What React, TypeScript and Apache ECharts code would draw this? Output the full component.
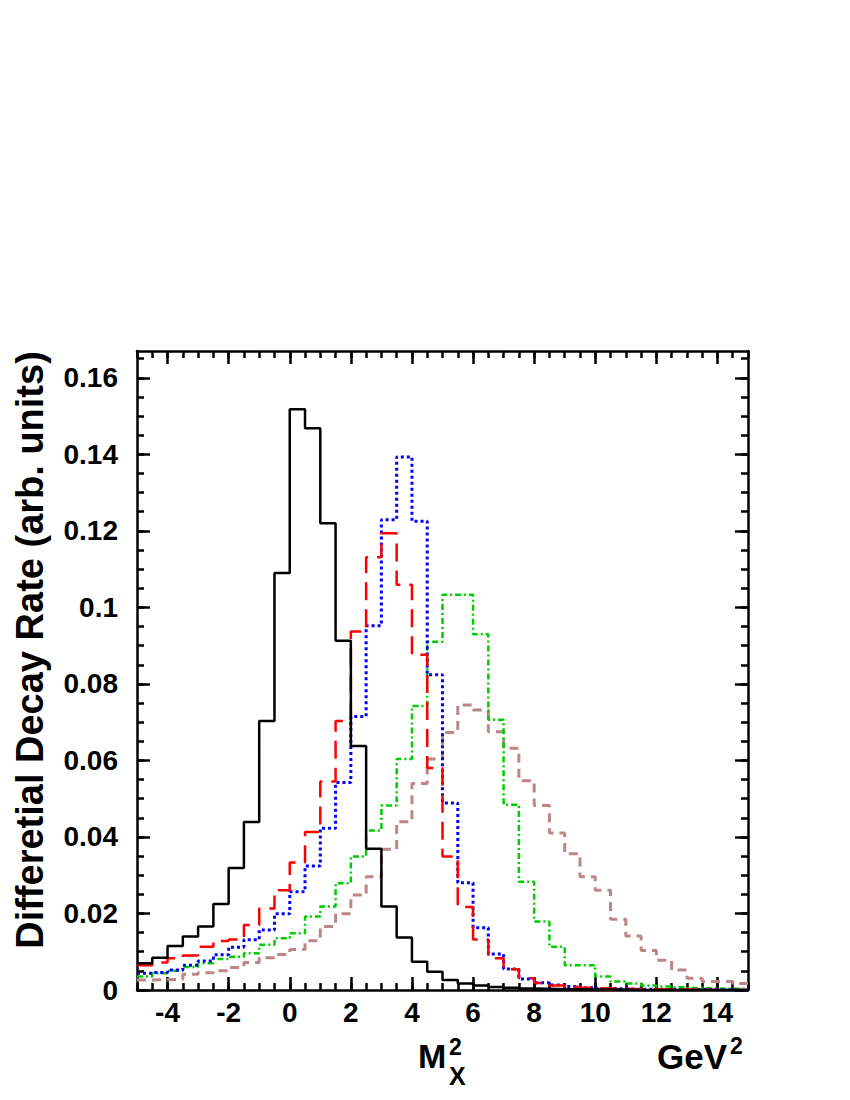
import React, { useEffect, useRef } from "react";
import * as echarts from "echarts";

// Bin left edges (GeV^2), bin width 0.5, range -5 .. 15
const binEdges: number[] = Array.from({ length: 41 }, (_, i) => -5 + i * 0.5);

const blackSeries = [
  0.0070, 0.0084, 0.0115, 0.0140, 0.0166, 0.0225, 0.0319, 0.0439, 0.0703, 0.1090,
  0.1518, 0.1468, 0.1220, 0.0913, 0.0638, 0.0369, 0.0218, 0.0137, 0.0074, 0.0048,
  0.0026, 0.0017, 0.0012, 0.0008, 0.0006, 0.0004, 0.0003, 0.0002, 0.0002, 0.0001,
  0.0001, 0.0001, 0.0000, 0.0000, 0.0000, 0.0000, 0.0000, 0.0000, 0.0000, 0.0000,
];
const redSeries = [
  0.0065, 0.0072, 0.0083, 0.0090, 0.0113, 0.0128, 0.0132, 0.0170, 0.0213, 0.0261,
  0.0333, 0.0413, 0.0545, 0.0703, 0.0937, 0.1131, 0.1194, 0.1059, 0.0876, 0.0580,
  0.0349, 0.0217, 0.0132, 0.0083, 0.0054, 0.0031, 0.0018, 0.0012, 0.0008, 0.0006,
  0.0004, 0.0003, 0.0002, 0.0002, 0.0001, 0.0001, 0.0001, 0.0000, 0.0000, 0.0000,
];
const blueSeries = [
  0.0044, 0.0046, 0.0052, 0.0065, 0.0076, 0.0092, 0.0112, 0.0131, 0.0157, 0.0199,
  0.0257, 0.0324, 0.0423, 0.0542, 0.0715, 0.0952, 0.1229, 0.1393, 0.1225, 0.0824,
  0.0489, 0.0280, 0.0163, 0.0094, 0.0055, 0.0029, 0.0019, 0.0013, 0.0009, 0.0006,
  0.0004, 0.0003, 0.0002, 0.0002, 0.0001, 0.0001, 0.0001, 0.0001, 0.0000, 0.0000,
];
const greenSeries = [
  0.0035, 0.0044, 0.0050, 0.0060, 0.0070, 0.0081, 0.0087, 0.0096, 0.0118, 0.0135,
  0.0148, 0.0192, 0.0218, 0.0279, 0.0349, 0.0417, 0.0482, 0.0604, 0.0742, 0.0910,
  0.1033, 0.1033, 0.0930, 0.0706, 0.0484, 0.0283, 0.0179, 0.0113, 0.0065, 0.0065,
  0.0035, 0.0022, 0.0017, 0.0012, 0.0009, 0.0007, 0.0005, 0.0004, 0.0003, 0.0003,
];
const brownSeries = [
  0.0026, 0.0027, 0.0028, 0.0041, 0.0045, 0.0050, 0.0059, 0.0072, 0.0084, 0.0093,
  0.0106, 0.0129, 0.0166, 0.0199, 0.0248, 0.0296, 0.0368, 0.0440, 0.0540, 0.0604,
  0.0673, 0.0745, 0.0732, 0.0675, 0.0632, 0.0547, 0.0482, 0.0410, 0.0356, 0.0296,
  0.0261, 0.0185, 0.0141, 0.0103, 0.0078, 0.0052, 0.0031, 0.0022, 0.0022, 0.0017,
];

const xMajorTicks = [-4, -2, 0, 2, 4, 6, 8, 10, 12, 14];
const xMinorTicks: number[] = Array.from({ length: 41 }, (_, i) => -5 + i * 0.5);
const yMajorTicks = [0, 0.02, 0.04, 0.06, 0.08, 0.1, 0.12, 0.14, 0.16];
const yMinorTicks: number[] = Array.from({ length: 34 }, (_, i) => +(i * 0.005).toFixed(3));

const X_MIN = -5;
const X_MAX = 15;
const Y_MIN = 0;
const Y_MAX = 0.167;

const FONT = "Liberation Sans";

function histData(vals: number[]): [number, number][] {
  const out: [number, number][] = vals.map((v, i) => [binEdges[i], v]);
  out.push([binEdges[vals.length], vals[vals.length - 1]]);
  return out;
}

export default function App() {
  const ref = useRef<HTMLDivElement>(null);

  useEffect(() => {
    document.body.style.margin = "0";
    if (!ref.current) return;
    const chart = echarts.init(ref.current, undefined, { renderer: "svg" });

    const frameLine = { show: true, onZero: false, lineStyle: { color: "#000", width: 2.5 } };
    const hiddenLine = { show: false, onZero: false };
    const labelStyle = {
      color: "#000",
      fontFamily: FONT,
      fontWeight: "bold" as const,
      fontSize: 28,
    };

    const xAxisBase = { type: "value" as const, min: X_MIN, max: X_MAX, splitLine: { show: false } };
    const yAxisBase = { type: "value" as const, min: Y_MIN, max: Y_MAX, splitLine: { show: false } };

    const majorTick = (vals: number[]) => ({
      show: true,
      inside: true,
      length: 13,
      customValues: vals,
      lineStyle: { color: "#000", width: 2.5 },
    });
    const minorTick = (vals: number[]) => ({
      show: true,
      inside: true,
      length: 7,
      customValues: vals,
      lineStyle: { color: "#000", width: 2.5 },
    });

    const mkSeries = (name: string, vals: number[], color: string, width: number, dash: any) => ({
      name,
      type: "line" as const,
      step: "end" as const,
      xAxisIndex: 0,
      yAxisIndex: 0,
      symbol: "none",
      clip: true,
      data: histData(vals),
      lineStyle: { color, width, type: dash, cap: "butt" },
    });

    const txt = (text: string, x: number, y: number, size: number) => ({
      type: "text",
      x,
      y,
      style: {
        text,
        fontFamily: FONT,
        fontWeight: "bold",
        fontSize: size,
        fill: "#000",
        align: "left",
        verticalAlign: "middle",
      },
    });

    chart.setOption({
      animation: false,
      backgroundColor: "#fff",
      grid: {
        left: 137,
        top: 351,
        right: 102,
        bottom: 110,
        containLabel: false,
        outerBoundsMode: "none",
      },
      xAxis: [
        {
          ...xAxisBase,
          position: "bottom",
          axisLine: frameLine,
          axisTick: majorTick(xMajorTicks),
          axisLabel: { ...labelStyle, margin: 8, customValues: xMajorTicks },
        },
        {
          ...xAxisBase,
          position: "bottom",
          axisLine: hiddenLine,
          axisTick: minorTick(xMinorTicks),
          axisLabel: { show: false },
        },
        {
          ...xAxisBase,
          position: "top",
          axisLine: frameLine,
          axisTick: majorTick(xMajorTicks),
          axisLabel: { show: false },
        },
        {
          ...xAxisBase,
          position: "top",
          axisLine: hiddenLine,
          axisTick: minorTick(xMinorTicks),
          axisLabel: { show: false },
        },
      ],
      yAxis: [
        {
          ...yAxisBase,
          position: "left",
          axisLine: frameLine,
          axisTick: majorTick(yMajorTicks),
          axisLabel: { ...labelStyle, margin: 19, customValues: yMajorTicks },
        },
        {
          ...yAxisBase,
          position: "left",
          axisLine: hiddenLine,
          axisTick: minorTick(yMinorTicks),
          axisLabel: { show: false },
        },
        {
          ...yAxisBase,
          position: "right",
          axisLine: frameLine,
          axisTick: majorTick(yMajorTicks),
          axisLabel: { show: false },
        },
        {
          ...yAxisBase,
          position: "right",
          axisLine: hiddenLine,
          axisTick: minorTick(yMinorTicks),
          axisLabel: { show: false },
        },
      ],
      series: [
        mkSeries("brown", brownSeries, "#bc8686", 3, [9, 6]),
        mkSeries("green", greenSeries, "#00cc00", 2.5, [6, 3, 2, 3]),
        mkSeries("blue", blueSeries, "#0000ff", 3, [3, 3]),
        mkSeries("red", redSeries, "#ff0000", 2.5, [18, 9]),
        mkSeries("black", blackSeries, "#000000", 2.5, "solid"),
      ],
      graphic: [
        {
          type: "text",
          x: 30,
          y: 650,
          rotation: Math.PI / 2,
          style: {
            text: "Differetial Decay Rate (arb. units)",
            fontFamily: FONT,
            fontWeight: "bold",
            fontSize: 38,
            fill: "#000",
            align: "center",
            verticalAlign: "middle",
          },
        },
        txt("M", 418, 1056, 34),
        txt("2", 449, 1047, 23),
        txt("X", 449, 1076, 25),
        txt("GeV", 657, 1056, 35),
        txt("2", 730, 1046, 23),
      ],
    });

    return () => {
      chart.dispose();
    };
  }, []);

  return <div ref={ref} style={{ width: 850, height: 1100 }} />;
}
